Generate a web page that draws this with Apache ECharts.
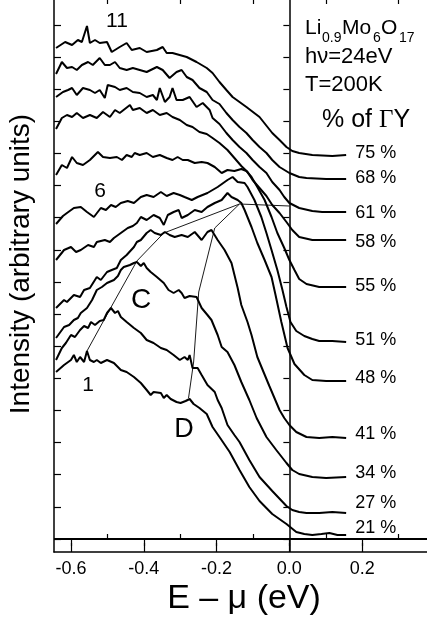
<!DOCTYPE html>
<html><head><meta charset="utf-8">
<script src="https://cdn.jsdelivr.net/npm/echarts@6/dist/echarts.min.js"></script>
<style>html,body{margin:0;padding:0;background:#fff}#c{width:427px;height:626px}</style>
</head><body><div id="c"></div>
<script>
// Energy E - mu (eV), intensity (arbitrary units, offset stack)
const curve21 = [[-0.641,167],[-0.636,169],[-0.619,174],[-0.600,179],[-0.592,184],[-0.584,177],[-0.575,182],[-0.564,177],[-0.556,188],[-0.548,179],[-0.537,177],[-0.529,179],[-0.518,176],[-0.501,179],[-0.482,176],[-0.463,169],[-0.447,167],[-0.427,162],[-0.408,156],[-0.392,149],[-0.381,144],[-0.373,147],[-0.353,146],[-0.345,141],[-0.337,144],[-0.326,140],[-0.310,137],[-0.299,136],[-0.285,138],[-0.274,140],[-0.263,135],[-0.247,131],[-0.227,125],[-0.211,112],[-0.192,102],[-0.164,87],[-0.137,69],[-0.110,52],[-0.082,38],[-0.047,25],[-0.008,15],[0.019,7],[0.041,5],[0.063,4],[0.088,5],[0.110,6],[0.132,4],[0.156,4]];
const curve27 = [[-0.641,179],[-0.636,181],[-0.625,191],[-0.614,196],[-0.600,204],[-0.589,202],[-0.575,209],[-0.564,213],[-0.553,211],[-0.545,217],[-0.534,214],[-0.521,218],[-0.510,219],[-0.501,226],[-0.490,231],[-0.479,226],[-0.471,228],[-0.463,222],[-0.447,217],[-0.427,211],[-0.408,206],[-0.392,199],[-0.373,196],[-0.353,191],[-0.337,189],[-0.318,184],[-0.301,179],[-0.288,182],[-0.279,179],[-0.274,184],[-0.266,171],[-0.252,171],[-0.241,164],[-0.225,154],[-0.205,147],[-0.197,139],[-0.186,131],[-0.170,114],[-0.151,104],[-0.137,97],[-0.110,79],[-0.082,62],[-0.047,48],[-0.008,33],[0.008,29],[0.027,27],[0.047,26],[0.082,26],[0.118,27],[0.156,26]];
const curve34 = [[-0.641,201],[-0.636,202],[-0.619,212],[-0.605,214],[-0.592,219],[-0.581,221],[-0.573,226],[-0.556,231],[-0.542,239],[-0.529,249],[-0.515,252],[-0.501,256],[-0.482,259],[-0.471,263],[-0.463,269],[-0.455,272],[-0.438,274],[-0.427,276],[-0.419,277],[-0.408,273],[-0.400,276],[-0.392,271],[-0.381,267],[-0.364,262],[-0.345,256],[-0.332,249],[-0.318,246],[-0.304,249],[-0.296,246],[-0.288,241],[-0.274,243],[-0.255,242],[-0.241,231],[-0.225,224],[-0.214,219],[-0.197,204],[-0.186,192],[-0.170,187],[-0.151,174],[-0.132,157],[-0.110,139],[-0.090,121],[-0.063,102],[-0.036,89],[-0.008,76],[0.008,69],[0.027,65],[0.063,62],[0.101,61],[0.156,62]];
const curve41 = [[-0.641,231],[-0.636,232],[-0.619,239],[-0.611,237],[-0.592,244],[-0.575,242],[-0.564,249],[-0.548,251],[-0.529,262],[-0.518,259],[-0.501,267],[-0.488,269],[-0.474,271],[-0.463,279],[-0.447,284],[-0.427,292],[-0.419,297],[-0.408,299],[-0.392,306],[-0.381,309],[-0.370,306],[-0.353,304],[-0.342,307],[-0.329,304],[-0.315,302],[-0.296,304],[-0.279,302],[-0.260,307],[-0.241,299],[-0.225,307],[-0.214,309],[-0.197,299],[-0.178,289],[-0.159,276],[-0.142,251],[-0.132,234],[-0.115,217],[-0.104,204],[-0.088,182],[-0.071,167],[-0.055,153],[-0.041,141],[-0.027,129],[-0.014,121],[0.000,114],[0.019,107],[0.047,102],[0.082,101],[0.118,102],[0.156,101]];
const curve48 = [[-0.641,279],[-0.636,281],[-0.619,289],[-0.600,292],[-0.586,287],[-0.573,289],[-0.553,294],[-0.537,292],[-0.529,297],[-0.507,299],[-0.493,297],[-0.482,301],[-0.463,306],[-0.444,311],[-0.430,313],[-0.419,316],[-0.408,322],[-0.392,319],[-0.373,324],[-0.356,321],[-0.345,314],[-0.334,324],[-0.318,327],[-0.304,329],[-0.296,321],[-0.279,324],[-0.260,329],[-0.241,327],[-0.225,332],[-0.205,336],[-0.186,339],[-0.170,346],[-0.159,342],[-0.142,339],[-0.132,336],[-0.123,329],[-0.104,312],[-0.088,296],[-0.068,279],[-0.049,262],[-0.038,244],[-0.022,217],[-0.005,191],[0.014,175],[0.041,164],[0.063,159],[0.101,158],[0.156,158]];
const curve51 = [[-0.641,315],[-0.636,317],[-0.622,323],[-0.611,326],[-0.592,331],[-0.573,332],[-0.556,327],[-0.537,322],[-0.518,331],[-0.504,329],[-0.490,334],[-0.477,332],[-0.463,336],[-0.444,338],[-0.427,336],[-0.408,342],[-0.392,344],[-0.373,342],[-0.353,347],[-0.337,343],[-0.318,346],[-0.301,344],[-0.288,342],[-0.268,339],[-0.252,342],[-0.225,346],[-0.197,352],[-0.170,359],[-0.156,362],[-0.142,357],[-0.123,356],[-0.115,352],[-0.096,339],[-0.077,322],[-0.063,306],[-0.049,289],[-0.033,269],[-0.019,249],[-0.008,232],[0.003,217],[0.019,208],[0.041,203],[0.063,200],[0.082,198],[0.118,198],[0.156,197]];
const curve55 = [[-0.641,364],[-0.636,366],[-0.625,374],[-0.611,371],[-0.597,382],[-0.584,376],[-0.567,374],[-0.548,379],[-0.526,387],[-0.512,382],[-0.493,381],[-0.474,382],[-0.460,379],[-0.447,384],[-0.433,382],[-0.425,386],[-0.411,384],[-0.392,386],[-0.375,382],[-0.356,384],[-0.337,381],[-0.321,379],[-0.307,382],[-0.293,379],[-0.279,379],[-0.260,376],[-0.241,377],[-0.225,376],[-0.205,372],[-0.186,366],[-0.170,369],[-0.151,368],[-0.132,370],[-0.118,368],[-0.104,362],[-0.088,352],[-0.068,339],[-0.049,322],[-0.033,306],[-0.014,291],[0.000,279],[0.014,269],[0.027,260],[0.047,255],[0.082,252],[0.118,252],[0.156,252]];
const curve58 = [[-0.641,410],[-0.636,412],[-0.625,421],[-0.611,424],[-0.597,422],[-0.584,426],[-0.567,421],[-0.548,424],[-0.529,421],[-0.512,427],[-0.493,422],[-0.479,429],[-0.466,426],[-0.452,430],[-0.438,434],[-0.430,429],[-0.411,431],[-0.392,426],[-0.375,429],[-0.356,424],[-0.337,426],[-0.321,422],[-0.301,419],[-0.282,414],[-0.266,412],[-0.247,407],[-0.227,405],[-0.211,401],[-0.192,396],[-0.170,389],[-0.151,381],[-0.132,373],[-0.115,367],[-0.101,359],[-0.082,351],[-0.063,343],[-0.047,334],[-0.027,326],[-0.008,317],[0.008,309],[0.027,302],[0.063,299],[0.101,299],[0.156,299]];
const curve61 = [[-0.641,442],[-0.636,444],[-0.622,447],[-0.608,449],[-0.597,451],[-0.584,444],[-0.567,451],[-0.548,449],[-0.534,446],[-0.521,449],[-0.507,441],[-0.499,454],[-0.479,452],[-0.466,449],[-0.447,451],[-0.430,447],[-0.411,446],[-0.392,442],[-0.375,444],[-0.364,439],[-0.356,451],[-0.342,437],[-0.329,442],[-0.321,451],[-0.310,439],[-0.293,439],[-0.274,442],[-0.255,432],[-0.238,436],[-0.219,429],[-0.211,421],[-0.192,415],[-0.173,406],[-0.156,399],[-0.137,392],[-0.118,386],[-0.101,379],[-0.082,372],[-0.063,366],[-0.047,357],[-0.027,349],[-0.014,342],[0.000,336],[0.027,331],[0.063,328],[0.090,327],[0.156,327]];
const curve68 = [[-0.641,465],[-0.636,467],[-0.625,477],[-0.611,471],[-0.597,472],[-0.584,469],[-0.570,474],[-0.553,477],[-0.540,474],[-0.521,481],[-0.507,474],[-0.493,474],[-0.479,477],[-0.466,471],[-0.447,469],[-0.430,471],[-0.411,469],[-0.392,467],[-0.364,472],[-0.348,469],[-0.329,461],[-0.310,467],[-0.296,469],[-0.282,462],[-0.266,459],[-0.247,451],[-0.227,447],[-0.211,439],[-0.192,435],[-0.173,426],[-0.156,419],[-0.137,412],[-0.118,406],[-0.101,399],[-0.082,392],[-0.063,386],[-0.047,379],[-0.027,372],[0.000,366],[0.027,362],[0.047,361],[0.101,360],[0.156,360]];
const curve75 = [[-0.641,491],[-0.636,492],[-0.616,497],[-0.597,494],[-0.581,499],[-0.570,497],[-0.556,513],[-0.548,496],[-0.534,499],[-0.521,496],[-0.501,497],[-0.488,487],[-0.466,492],[-0.447,496],[-0.433,489],[-0.411,491],[-0.392,487],[-0.364,489],[-0.348,492],[-0.337,486],[-0.321,486],[-0.282,482],[-0.255,477],[-0.227,471],[-0.211,466],[-0.192,457],[-0.173,449],[-0.156,442],[-0.137,437],[-0.118,432],[-0.082,422],[-0.047,406],[-0.027,399],[-0.008,392],[0.008,388],[0.027,386],[0.063,384],[0.118,383],[0.156,384]];

// dispersion guide lines through peaks C and D
const peakC = [[-0.556,188],[-0.488,233],[-0.419,278],[-0.345,306],[-0.137,335]];
const peakD = [[-0.277,141],[-0.263,177],[-0.249,247],[-0.205,311],[-0.137,335]];
const peakJoin = [[-0.137,335],[0.000,333]];

const percentLabels = ['21 %','27 %','34 %','41 %','48 %','51 %','55 %','58 %','61 %','68 %','75 %'];
const curves = [curve21,curve27,curve34,curve41,curve48,curve51,curve55,curve58,curve61,curve68,curve75];

const xTickLabels = [-0.6,-0.4,-0.2,0.0,0.2];
const xMinorTicks = [-0.5,-0.3,-0.1,0.1,0.3];
const yTicks = [0,32.1,64.3,96.4,128.5,160.6,192.8,224.9,257,289.1,321.3,353.4,385.5,417.6,449.8,481.9,514];

// ---- styling ----
const FF = '"Liberation Sans", Arial, Helvetica, sans-serif';
const labelDy = [-7,-10,-4,-4,-3,-2,-1,2,1,-1,-2];
const X_MIN = -0.6466, X_MAX = 0.3781;
const tickStyle = {color:'#000', width:1.2};

const xBase = {type:'value', min:X_MIN, max:X_MAX, splitLine:{show:false},
  axisLabel:{show:false}, axisLine:{show:false}};
const yBase = {type:'value', min:-13, max:539, splitLine:{show:false}, axisLabel:{show:false}};

const series = curves.map((d,i)=>({
  type:'line', name:percentLabels[i], data:d, symbol:'none', silent:true,
  lineStyle:{color:'#000', width:2}, z:3,
  endLabel:{show:true, formatter:'{a}', distance:9, color:'#000', fontSize:18,
    fontFamily:FF, offset:[0,labelDy[i]]}
}));
[peakC, peakD, peakJoin].forEach(d=>series.push({
  type:'line', data:d, symbol:'none', silent:true, z:2,
  lineStyle:{color:'#000', width:0.9}
}));
series.push({
  type:'line', data:[], silent:true,
  markLine:{symbol:'none', silent:true, label:{show:false},
    lineStyle:{color:'#000', type:'solid'},
    data:[{xAxis:0, lineStyle:{width:1.5}}, {yAxis:0, lineStyle:{width:2}}]}
});

const txt = (text,x,y,size)=>({type:'text', x, y, silent:true,
  style:{text, font:`${size}px ${FF}`, fill:'#000', align:'left', verticalAlign:'middle',
    textAlign:'left', textVerticalAlign:'middle'}});
const ctxt = (text,x,y,size)=>({type:'text', x, y, silent:true,
  style:{text, font:`${size}px ${FF}`, fill:'#000', align:'center', verticalAlign:'middle',
    textAlign:'center', textVerticalAlign:'middle'}});

const graphic = [
  {type:'text', x:21, y:264, rotation:Math.PI/2, silent:true,
    style:{text:'Intensity (arbitrary units)', font:`28px ${FF}`, fill:'#000',
      align:'center', verticalAlign:'middle', textAlign:'center', textVerticalAlign:'middle'}},
  ctxt('E \u2013 \u03bc (eV)', 244, 599, 34),
  txt('Li', 305, 28, 21), txt('0.9', 322, 38, 14), txt('Mo', 342, 28, 21),
  txt('6', 373, 38, 14), txt('O', 381, 28, 21), txt('17', 399, 38, 14),
  txt('h\u03bd=24eV', 305, 57, 22),
  txt('T=200K', 305, 85, 22),
  {type:'text', x:322, y:120, silent:true,
    style:{text:'{a|% of }{g|\u0393}{a|Y}', fill:'#000', align:'left', verticalAlign:'middle',
      textAlign:'left', textVerticalAlign:'middle',
      rich:{a:{fontSize:25, fontFamily:FF, fill:'#000'},
            g:{fontSize:25, fontFamily:'"Liberation Serif", serif', fill:'#000'}}}},
  ctxt('11', 117, 21, 21),
  ctxt('6', 100, 191, 21),
  ctxt('1', 88, 385, 21),
  ctxt('C', 141, 300, 28),
  ctxt('D', 184, 430, 27)
];

const chart = echarts.init(document.getElementById('c'), null, {renderer:'canvas'});
chart.setOption({
  animation:false,
  backgroundColor:'#fff',
  grid:{left:54, top:0, width:374, height:552, containLabel:false},
  xAxis:[
    Object.assign({}, xBase, {position:'bottom',
      axisLine:{show:true, onZero:false, lineStyle:{color:'#000', width:1.5}},
      axisTick:{show:true, inside:true, length:9, customValues:xTickLabels, lineStyle:tickStyle},
      axisLabel:{show:true, customValues:xTickLabels, formatter:v=>Number(v).toFixed(1),
        color:'#000', fontSize:18, fontFamily:FF, margin:8}}),
    Object.assign({}, xBase, {position:'bottom',
      axisTick:{show:true, inside:true, length:5, customValues:xMinorTicks, lineStyle:tickStyle}}),
    Object.assign({}, xBase, {position:'top',
      axisTick:{show:true, inside:true, length:7, customValues:xTickLabels, lineStyle:tickStyle}}),
    Object.assign({}, xBase, {position:'top',
      axisTick:{show:true, inside:true, length:4, customValues:xMinorTicks, lineStyle:tickStyle}})
  ],
  yAxis:[
    Object.assign({}, yBase, {position:'left',
      axisLine:{show:true, onZero:false, lineStyle:{color:'#000', width:1.5}},
      axisTick:{show:true, inside:true, length:7, customValues:yTicks, lineStyle:tickStyle}}),
    Object.assign({}, yBase, {position:'right', axisLine:{show:false},
      axisTick:{show:true, inside:true, length:6, customValues:yTicks, lineStyle:tickStyle}})
  ],
  series,
  graphic
});
</script></body></html>
